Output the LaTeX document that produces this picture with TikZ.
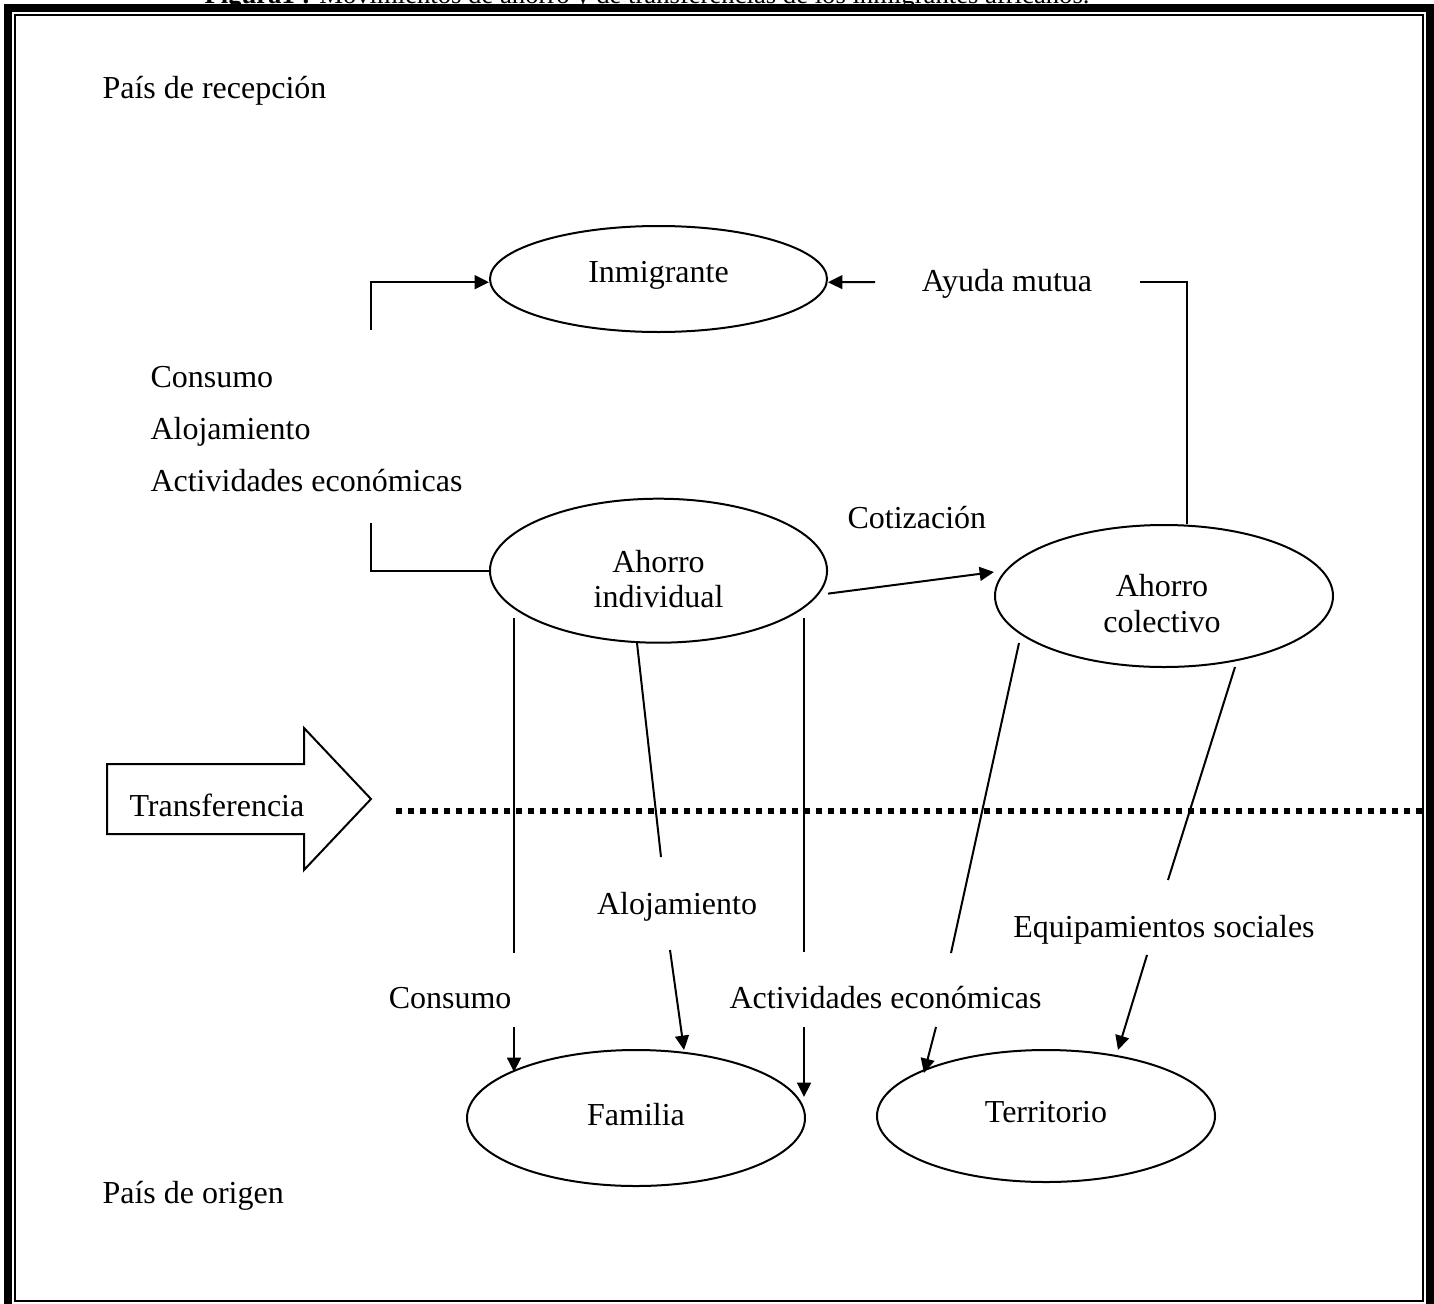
\documentclass[tikz,border=0pt]{standalone}
\usepackage{fontspec}
\setmainfont{Liberation Serif}
\usetikzlibrary{arrows.meta,shapes.geometric,calc}
\begin{document}
\begin{tikzpicture}[x=0.375pt,y=-0.375pt,
  every node/.style={font=\fontsize{12}{13}\selectfont, inner sep=0pt},
  oval/.style={draw, ellipse, line width=0.75pt, inner sep=0pt},
  conn/.style={line width=0.75pt},
  arr/.style={conn, -{Triangle[length=5.4pt,width=5.2pt]}},
  txt/.style={anchor=base},
  txtl/.style={anchor=base west},
  txtr/.style={anchor=base east},
  ]
\useasboundingbox (0,0) rectangle (1434,1303);
\fill[white] (0,0) rectangle (1434,1303);

% caption (mostly cut off at the top)
\node[txtl, font=\fontsize{10}{12}\selectfont] (cap) at (204,3.5)
  {\textbf{Figura1 :} Movimientos de ahorro y de transferencias de los inmigrantes africanos.};

% frame
\draw[line width=3pt] (8,8) rectangle (1430,1312);
\draw[line width=0.75pt] (15,15) rectangle (1422.5,1301);

% ellipses
\node[oval, minimum width=126.4pt, minimum height=39.75pt] (inm) at (658.5,279) {};
\node[oval, minimum width=126.4pt, minimum height=54pt] (ai) at (658.5,570.7) {};
\node[oval, minimum width=126.75pt, minimum height=53.25pt] (ac) at (1164,596) {};
\node[oval, minimum width=126.75pt, minimum height=51pt] (fam) at (636,1118) {};
\node[oval, minimum width=126.75pt, minimum height=49.5pt] (ter) at (1046,1116) {};

% texts inside ellipses
\node[txt] (tinm) at (658.5,282) {Inmigrante};
\node[txt] (tai1) at (658.5,572) {Ahorro};
\node[txt] (tai2) at (658.5,607) {individual};
\node[txt] (tac1) at (1162,596) {Ahorro};
\node[txt] (tac2) at (1162,632) {colectivo};
\node[txt] (tfam) at (636,1125) {Familia};
\node[txt] (tter) at (1046,1122) {Territorio};

% free texts
\node[txtl] (prec) at (102,98) {País de recepción};
\node[txtl] (porig) at (102,1203) {País de origen};
\node[txtl] (u1) at (150,387) {Consumo};
\node[txtl] (u2) at (150,439) {Alojamiento};
\node[txtl] (u3) at (150,491) {Actividades económicas};
\node[txt] (ayuda) at (1007,291) {Ayuda mutua};
\node[txtl] (cotiz) at (847,528) {Cotización};
\node[txtr] (l1) at (512,1008) {Consumo};
\node[txt] (l2) at (677,914) {Alojamiento};
\node[txtl] (l3) at (729,1008) {Actividades económicas};
\node[txt] (l4) at (1164,937) {Equipamientos sociales};

% transfer block arrow
\draw[line width=0.75pt] (107,764) -- (304,764) -- (304,728) -- (371,799)
  -- (304,870) -- (304,834) -- (107,834) -- cycle;
\node[txtl] (transf) at (129,816) {Transferencia};

% dotted border line
\coordinate (dl1) at (396,811);
\coordinate (dl2) at (1423,811);
\draw[line width=2.1pt, dash pattern=on 2.25pt off 2.25pt] (dl1) -- (dl2);

% brackets to Inmigrante
\coordinate (b1) at (371,330);
\coordinate (b2) at (371,523);
\draw[arr] (b1) |- ([yshift=-1.2pt]inm.west);
\draw[conn] (b2) |- (ai.west);

% Ayuda mutua
\coordinate (am1) at (875,282);
\coordinate (am2) at (1140,282);
\draw[arr] (am1) -- ([yshift=-1.2pt]inm.east);
\draw[conn] (am2) -| ([xshift=8.6pt]ac.north);

% Cotizacion
\draw[arr] ([yshift=-8.6pt]ai.east) -- ([yshift=9pt]ac.west);

% from Ahorro individual to Familia
\coordinate (s1a) at (514,618);   \coordinate (s1b) at (514,953);
\coordinate (s1c) at (514,1027);  \coordinate (s1d) at (514,1072);
\draw[conn] (s1a) -- (s1b);
\draw[arr] (s1c) -- (s1d);
\coordinate (s2a) at (637,643);   \coordinate (s2b) at (661,857);
\coordinate (s2c) at (670,950);   \coordinate (s2d) at (684,1050);
\draw[conn] (s2a) -- (s2b);
\draw[arr] (s2c) -- (s2d);
\coordinate (s3a) at (804,618);   \coordinate (s3b) at (804,952);
\coordinate (s3c) at (804,1027);  \coordinate (s3d) at (804,1097);
\draw[conn] (s3a) -- (s3b);
\draw[arr] (s3c) -- (s3d);

% from Ahorro colectivo to Territorio
\coordinate (s4a) at (1019,643);  \coordinate (s4b) at (951,953);
\coordinate (s4c) at (936,1027);  \coordinate (s4d) at (924,1073);
\draw[conn] (s4a) -- (s4b);
\draw[arr] (s4c) -- (s4d);
\coordinate (s5a) at (1235,667);  \coordinate (s5b) at (1168,880);
\coordinate (s5c) at (1147,955);  \coordinate (s5d) at (1118,1050);
\draw[conn] (s5a) -- (s5b);
\draw[arr] (s5c) -- (s5d);
\end{tikzpicture}
\end{document}
